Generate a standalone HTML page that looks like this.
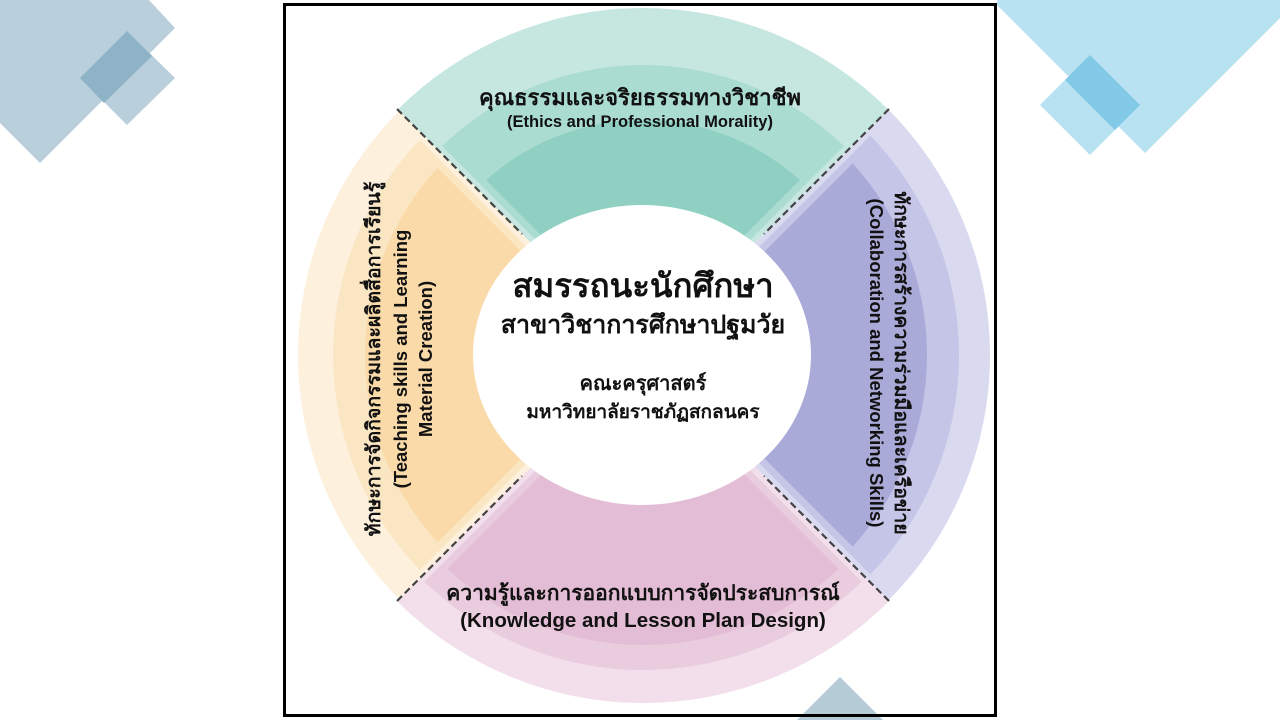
<!DOCTYPE html>
<html><head><meta charset="utf-8"><style>
html,body{margin:0;padding:0;background:#fff;width:1280px;height:720px;overflow:hidden}
svg{display:block;overflow:hidden}
text{font-family:"Liberation Sans","Noto Sans CJK SC","WenQuanYi Zen Hei",sans-serif;font-weight:bold;fill:#111;text-anchor:middle}
</style></head><body>
<svg width="1280" height="720" viewBox="0 0 1280 720" xmlns="http://www.w3.org/2000/svg">
<defs>
<clipPath id="q0"><polygon points="643,355 288,0 998,0"/></clipPath>
<clipPath id="q1"><polygon points="643,347 296,0 990,0"/></clipPath>
<clipPath id="q2"><polygon points="643,337 306,0 980,0"/></clipPath>
</defs>
<polygon points="0,0 149,0 175,28 40,163 0,123" fill="#b9cfdc"/>
<polygon points="127,31 175,78 127,125 80,78" fill="#b9cfdc"/>
<polygon points="127,31 152,56 104,103 80,78" fill="#8fb3c6"/>
<polygon points="997,0 1280,0 1280,18 1145,153 997,5" fill="#b8e1f1"/>
<polygon points="1090,55 1140,105 1090,155 1040,105" fill="#b8e1f1"/>
<polygon points="1090,55 1140,105 1115,130 1065,80" fill="#82c9e7"/>
<rect x="284.5" y="4.5" width="711" height="711" fill="#fff" stroke="#000" stroke-width="3"/>
<g>
<circle cx="643" cy="355" r="347" fill="#c6e7e0" clip-path="url(#q0)"/>
<circle cx="643" cy="355" r="290" fill="#abdcd2" clip-path="url(#q1)"/>
<circle cx="643" cy="355" r="235" fill="#8fd0c3" clip-path="url(#q2)"/>
</g>
<g transform="rotate(90 643 355)">
<circle cx="643" cy="355" r="347" fill="#d9d9ef" clip-path="url(#q0)"/>
<circle cx="643" cy="355" r="316" fill="#c5c5e7" clip-path="url(#q1)"/>
<circle cx="643" cy="355" r="284" fill="#aaaad9" clip-path="url(#q2)"/>
</g>
<g transform="rotate(180 643 355)">
<circle cx="643" cy="355" r="348" fill="#f2dfeb" clip-path="url(#q0)"/>
<circle cx="643" cy="355" r="315" fill="#eaccdf" clip-path="url(#q1)"/>
<circle cx="643" cy="355" r="290" fill="#e3bcd5" clip-path="url(#q2)"/>
</g>
<g transform="rotate(270 643 355)">
<circle cx="643" cy="355" r="345" fill="#fdf1de" clip-path="url(#q0)"/>
<circle cx="643" cy="355" r="310" fill="#fbe6c4" clip-path="url(#q1)"/>
<circle cx="643" cy="355" r="278" fill="#f9daa8" clip-path="url(#q2)"/>
</g>
<g stroke="#444" stroke-width="2.2" stroke-dasharray="7,4" fill="none">
<line x1="397" y1="109" x2="522" y2="234"/>
<line x1="889" y1="109" x2="764" y2="234"/>
<line x1="397" y1="601" x2="522" y2="476"/>
<line x1="889" y1="601" x2="764" y2="476"/>
</g>
<ellipse cx="642" cy="355" rx="169" ry="150" fill="#fff"/>
<polygon points="840,677 883,720 797,720" fill="#b5cbd5"/>
<line x1="284" y1="715.5" x2="997" y2="715.5" stroke="#000" stroke-width="3"/>
<text x="640" y="105" font-size="22">คุณธรรมและจริยธรรมทางวิชาชีพ</text>
<text x="640" y="127" font-size="16.5">(Ethics and Professional Morality)</text>
<text x="643" y="297" font-size="33">สมรรถนะนักศึกษา</text>
<text x="643" y="333" font-size="25">สาขาวิชาการศึกษาปฐมวัย</text>
<text x="643" y="390" font-size="20">คณะครุศาสตร์</text>
<text x="643" y="418" font-size="19">มหาวิทยาลัยราชภัฏสกลนคร</text>
<text x="643" y="600" font-size="21">ความรู้และการออกแบบการจัดประสบการณ์</text>
<text x="643" y="627" font-size="20.5">(Knowledge and Lesson Plan Design)</text>
<g transform="translate(380 359) rotate(-90)">
<text x="0" y="0" font-size="19.5">ทักษะการจัดกิจกรรมและผลิตสื่อการเรียนรู้</text>
<text x="0" y="27" font-size="18.5">(Teaching skills and Learning</text>
<text x="0" y="52" font-size="18.5">Material Creation)</text>
</g>
<g transform="translate(895 363) rotate(90)">
<text x="0" y="0" font-size="19.5">ทักษะการสร้างความร่วมมือและเครือข่าย</text>
<text x="0" y="25" font-size="18.5">(Collaboration and Networking Skills)</text>
</g>
</svg>
</body></html>
